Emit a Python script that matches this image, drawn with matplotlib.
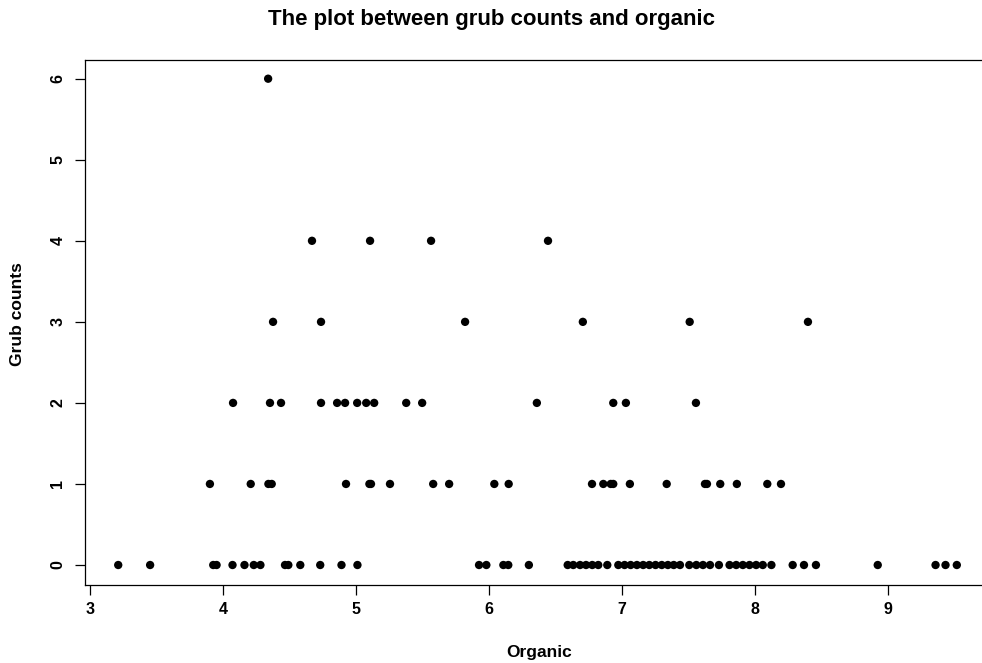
import numpy as np
import matplotlib
matplotlib.use("Agg")
import matplotlib.pyplot as plt

plt.rcParams['font.family'] = ['Liberation Sans', 'DejaVu Sans']
plt.rcParams['font.weight'] = 'bold'

# organic values, grouped by grub count
organic_0 = [3.21, 3.45, 3.925, 3.95, 4.07, 4.16, 4.23, 4.28, 4.465, 4.49, 4.58, 4.73,
             4.89, 5.01, 5.925, 5.98, 6.108, 6.145, 6.30,
             6.592, 6.634, 6.685, 6.73, 6.777, 6.822, 6.89,
             6.973, 7.02, 7.066, 7.113, 7.16, 7.206, 7.253, 7.30, 7.346, 7.39, 7.437,
             7.507, 7.56, 7.61, 7.663, 7.73,
             7.81, 7.86, 7.91, 7.96, 8.01, 8.06, 8.125, 8.285, 8.37, 8.46,
             8.925, 9.36, 9.435, 9.52]
organic_1 = [3.90, 4.207, 4.34, 4.365, 4.924, 5.10, 5.112, 5.255, 5.58, 5.70, 6.04, 6.148,
             6.775, 6.86, 6.916, 6.935, 7.06, 7.337, 7.625, 7.64, 7.74, 7.865, 8.094, 8.197]
organic_2 = [4.074, 4.352, 4.435, 4.736, 4.857, 4.917, 5.008, 5.076, 5.136, 5.377, 5.497,
             6.36, 6.935, 7.03, 7.557]
organic_3 = [4.375, 4.736, 5.82, 6.706, 7.51, 8.40]
organic_4 = [4.668, 5.105, 5.564, 6.444]
organic_6 = [4.338]

groups = {0: organic_0, 1: organic_1, 2: organic_2, 3: organic_3, 4: organic_4, 6: organic_6}
organic = []
grubs = []
for g in groups:
    organic.extend(groups[g])
    grubs.extend([g] * len(groups[g]))

fig = plt.figure(figsize=(9.82, 6.63), dpi=100)
# the plot box runs past the right edge of the picture, as in the reference
ax = fig.add_axes([85/982, (663-584.7)/663, (1000-85)/982, (584.7-59.5)/663])
ax.scatter(organic, grubs, s=36, color='black', edgecolors='none', zorder=3)

ax.set_xlim(2.96, 3 + (1000-90.3)/132.9)
ax.set_ylim(-0.243, 6.237)
ax.set_xticks([3, 4, 5, 6, 7, 8, 9])
ax.set_yticks([0, 1, 2, 3, 4, 5, 6])
for s in ax.spines.values():
    s.set_linewidth(0.9)
ax.spines['right'].set_visible(False)
ax.tick_params(direction='out', length=7.2, width=0.9, labelsize=11.5)
ax.tick_params(axis='x', pad=5)
ax.tick_params(axis='y', pad=7)
for lab in ax.get_yticklabels():
    lab.set_rotation(90)
    lab.set_va('center')
for lab in ax.get_xticklabels() + ax.get_yticklabels():
    lab.set_fontweight('bold')

fig.text(491/982, 1 - 20/663, "The plot between grub counts and organic",
         ha='center', va='center', fontsize=16, fontweight='bold')
fig.text(539/982, 1 - 652/663, "Organic", ha='center', va='center',
         fontsize=12.5, fontweight='bold')
fig.text(18/982, 1 - 314/663, "Grub counts", ha='center', va='center',
         rotation=90, fontsize=12.5, fontweight='bold')

fig.savefig("out.png", dpi=100)
